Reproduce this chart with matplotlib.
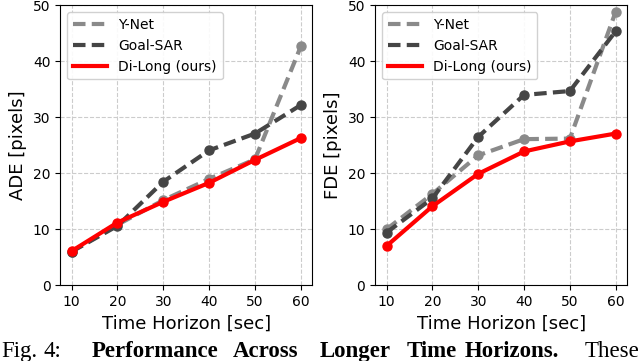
import matplotlib
matplotlib.use("Agg")
import matplotlib.pyplot as plt

horizons = [10, 20, 30, 40, 50, 60]

ade_ynet = [6.0, 10.8, 15.2, 19.0, 22.5, 42.7]
ade_goalsar = [6.0, 10.6, 18.5, 24.1, 27.1, 32.2]
ade_dilong = [6.1, 11.2, 14.9, 18.3, 22.4, 26.3]

fde_ynet = [10.0, 16.3, 23.2, 26.1, 26.2, 48.9]
fde_goalsar = [9.4, 15.5, 26.5, 34.0, 34.7, 45.4]
fde_dilong = [7.0, 14.1, 19.9, 23.9, 25.7, 27.1]

names = ["Y-Net", "Goal-SAR", "Di-Long (ours)"]
colors = ["#8a8a8a", "#454545", "#ff0000"]
styles = [(0, (3, 1.5)), (0, (3, 1.5)), "-"]


def panel(ax, series, ylabel):
    for vals, name, c, ls in zip(series, names, colors, styles):
        ax.plot(horizons, vals, color=c, ls=ls, lw=3, label=name)
        ax.plot(horizons, vals, color=c, ls="none", marker="o", ms=6.5)
    ax.set_ylim(0, 50)
    ax.set_xticks(horizons)
    ax.set_yticks([0, 10, 20, 30, 40, 50])
    ax.tick_params(labelsize=10)
    ax.grid(True, ls="--", color="#cccccc", lw=0.8)
    ax.set_xlabel("Time Horizon [sec]", fontsize=13)
    ax.set_ylabel(ylabel, fontsize=13)
    ax.legend(loc="upper left", fontsize=10, handlelength=2.5, framealpha=0.9)


fig = plt.figure(figsize=(6.4, 3.61), dpi=100)
ax1 = fig.add_axes([0.094, 0.21, 0.394, 0.775])
ax2 = fig.add_axes([0.586, 0.21, 0.394, 0.775])
panel(ax1, [ade_ynet, ade_goalsar, ade_dilong], "ADE [pixels]")
panel(ax2, [fde_ynet, fde_goalsar, fde_dilong], "FDE [pixels]")

# caption line under the figure, words spread like a justified line
words = [("Fig.", 1, "normal"), ("4:", 43, "normal"),
         ("Performance", 92, "bold"), ("Across", 233, "bold"),
         ("Longer", 320, "bold"), ("Time", 407, "bold"),
         ("Horizons.", 465, "bold"), ("These", 585, "normal")]
for w, x, wt in words:
    fig.text(x / 640, 1 - 357 / 361, w, fontsize=16.5, fontweight=wt,
             family="Liberation Serif", va="baseline", ha="left")

fig.savefig("out.png", dpi=100)
